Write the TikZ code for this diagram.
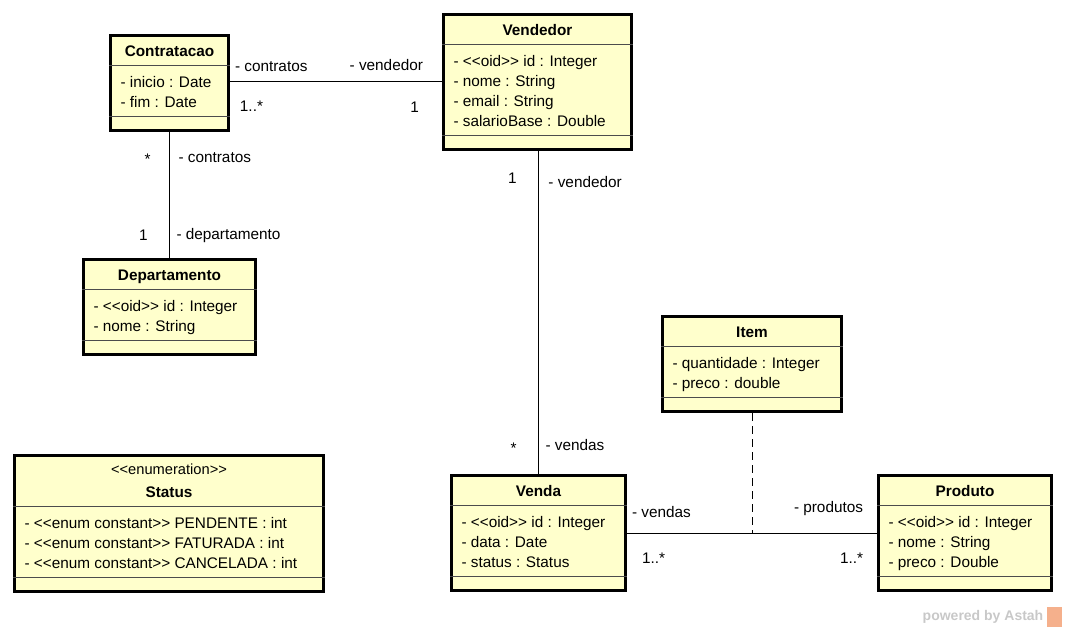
\documentclass[tikz,border=0pt]{standalone}
\usepackage{fontspec}
\setmainfont{Liberation Sans}
\usetikzlibrary{shapes.multipart}

\newlength{\px}
\setlength{\px}{0.75pt}
\definecolor{classfill}{HTML}{FFFFCC}
\definecolor{wmgray}{HTML}{C8C8C8}
\definecolor{wmorange}{HTML}{F5B08C}

\newcommand{\stereo}[1]{<\kern0pt<#1>\kern0pt>}
\newcommand{\clsname}[1]{\rule[-7.5\px]{0pt}{27\px}\textbf{#1}}
\newcommand{\rowtop}{\rule{0pt}{20.5\px}}
\newcommand{\rowbot}{\rule[-7.5\px]{0pt}{7.5\px}}
\newcommand{\attrs}[1]{\begin{tabular}{@{}l@{}}#1\end{tabular}}
\newcommand{\noops}{\rule{0pt}{11\px}}

\tikzset{
  umlclass/.style={draw, line width=2.25pt, fill=classfill, anchor=north west,
    rectangle split, rectangle split parts=3, rectangle split draw splits=false,
    rectangle split part align={center,left,left},
    inner xsep=7.5pt, inner ysep=0pt, font=\fontsize{11.5}{15}\selectfont},
  sepline/.style={line width=0.75pt, black!70},
  assoc/.style={line width=0.75pt},
  lbl/.style={inner sep=0pt, font=\fontsize{11.5}{15}\selectfont}
}

\begin{document}
\begin{tikzpicture}[x=0.75pt, y=-0.75pt]
  \useasboundingbox (0,0) rectangle (1066,630);

  % classes
  \node[umlclass, minimum width=88.5pt] at (109,34) (contr) {\clsname{Contratacao}
    \nodepart{two}\attrs{\rowtop- inicio : Date\\ - fim : Date\rowbot}
    \nodepart{three}\noops};
  \node[umlclass, minimum width=141pt] at (442,13) (vend) {\clsname{Vendedor}
    \nodepart{two}\attrs{\rowtop- \stereo{oid} id : Integer\\ - nome : String\\
      - email : String\\ - salarioBase : Double\rowbot}
    \nodepart{three}\noops};
  \node[umlclass, minimum width=129pt] at (82,258) (dept) {\clsname{Departamento}
    \nodepart{two}\attrs{\rowtop- \stereo{oid} id : Integer\\ - nome : String\rowbot}
    \nodepart{three}\noops};
  \node[umlclass, minimum width=231.75pt] at (13,454) (stat) {\begin{tabular}{@{}c@{}}\rule{0pt}{17.5\px}{\fontsize{11}{15}\selectfont\stereo{enumeration}}\\
      \rule[-7.5\px]{0pt}{24\px}\textbf{Status}\end{tabular}
    \nodepart{two}\attrs{\rowtop- \stereo{enum constant} PENDENTE : int\\
      - \stereo{enum constant} FATURADA : int\\
      - \stereo{enum constant} CANCELADA : int\rowbot}
    \nodepart{three}\noops};
  \node[umlclass, minimum width=134.25pt] at (661,315) (item) {\clsname{Item}
    \nodepart{two}\attrs{\rowtop- quantidade : Integer\\ - preco : double\rowbot}
    \nodepart{three}\noops};
  \node[umlclass, minimum width=130.5pt] at (450,474) (venda) {\clsname{Venda}
    \nodepart{two}\attrs{\rowtop- \stereo{oid} id : Integer\\ - data : Date\\
      - status : Status\rowbot}
    \nodepart{three}\noops};
  \node[umlclass, minimum width=129.75pt] at (877,474) (prod) {\clsname{Produto}
    \nodepart{two}\attrs{\rowtop- \stereo{oid} id : Integer\\ - nome : String\\
      - preco : Double\rowbot}
    \nodepart{three}\noops};

  % compartment lines
  \foreach \c in {contr,vend,dept,stat,item,venda,prod} {
    \draw[sepline] (\c.text split west) -- (\c.text split east);
    \draw[sepline] (\c.two split west) -- (\c.two split east);
  }

  % associations
  \draw[assoc] (vend.west -| contr.east) -- (vend.west)
    node[lbl, pos=0, anchor=west, xshift=3.4pt, yshift=11.6pt] (cvA) {- contratos}
    node[lbl, pos=0, anchor=west, xshift=7.1pt, yshift=-18.4pt] (cvB) {1..*}
    node[lbl, pos=1, anchor=east, xshift=-13.9pt, yshift=13.1pt] (cvC) {- vendedor}
    node[lbl, pos=1, anchor=east, xshift=-16.9pt, yshift=-19.1pt] (cvD) {1};
  \draw[assoc] (contr.south) -- (dept.north)
    node[lbl, pos=0, anchor=east, xshift=-13.9pt, yshift=-20.25pt] (cdA) {*}
    node[lbl, pos=0, anchor=west, xshift=6.4pt, yshift=-19.1pt] (cdB) {- contratos}
    node[lbl, pos=1, anchor=east, xshift=-16.1pt, yshift=16.9pt] (cdC) {1}
    node[lbl, pos=1, anchor=west, xshift=4.9pt, yshift=16.9pt] (cdD) {- departamento};
  \draw[assoc] (vend.south -| venda.north) -- (venda.north)
    node[lbl, pos=0, anchor=east, xshift=-16.1pt, yshift=-20.6pt] (vvA) {1}
    node[lbl, pos=0, anchor=west, xshift=7.1pt, yshift=-23.6pt] (vvB) {- vendedor}
    node[lbl, pos=1, anchor=east, xshift=-16.1pt, yshift=19.5pt] (vvC) {*}
    node[lbl, pos=1, anchor=west, xshift=4.9pt, yshift=21.4pt] (vvD) {- vendas};
  \draw[assoc] (venda.east) -- coordinate (vp) (prod.west)
    node[lbl, pos=0, anchor=west, xshift=3.4pt, yshift=16.1pt] (vpA) {- vendas}
    node[lbl, pos=0, anchor=west, xshift=10.9pt, yshift=-19.1pt] (vpB) {1..*}
    node[lbl, pos=1, anchor=east, xshift=-10.1pt, yshift=18pt] (vpC) {- produtos}
    node[lbl, pos=1, anchor=east, xshift=-10.1pt, yshift=-19.1pt] (vpD) {1..*};
  \draw[assoc, dash pattern=on 6pt off 3.75pt] (item.south) -- (vp);

  % watermark
  \node[inner sep=0pt, text=wmgray, font=\fontsize{10.5}{12}\selectfont\bfseries] at (983,617) (wm) {powered by Astah};
  \fill[wmorange] (1047,607) rectangle (1062,627);
\end{tikzpicture}
\end{document}
